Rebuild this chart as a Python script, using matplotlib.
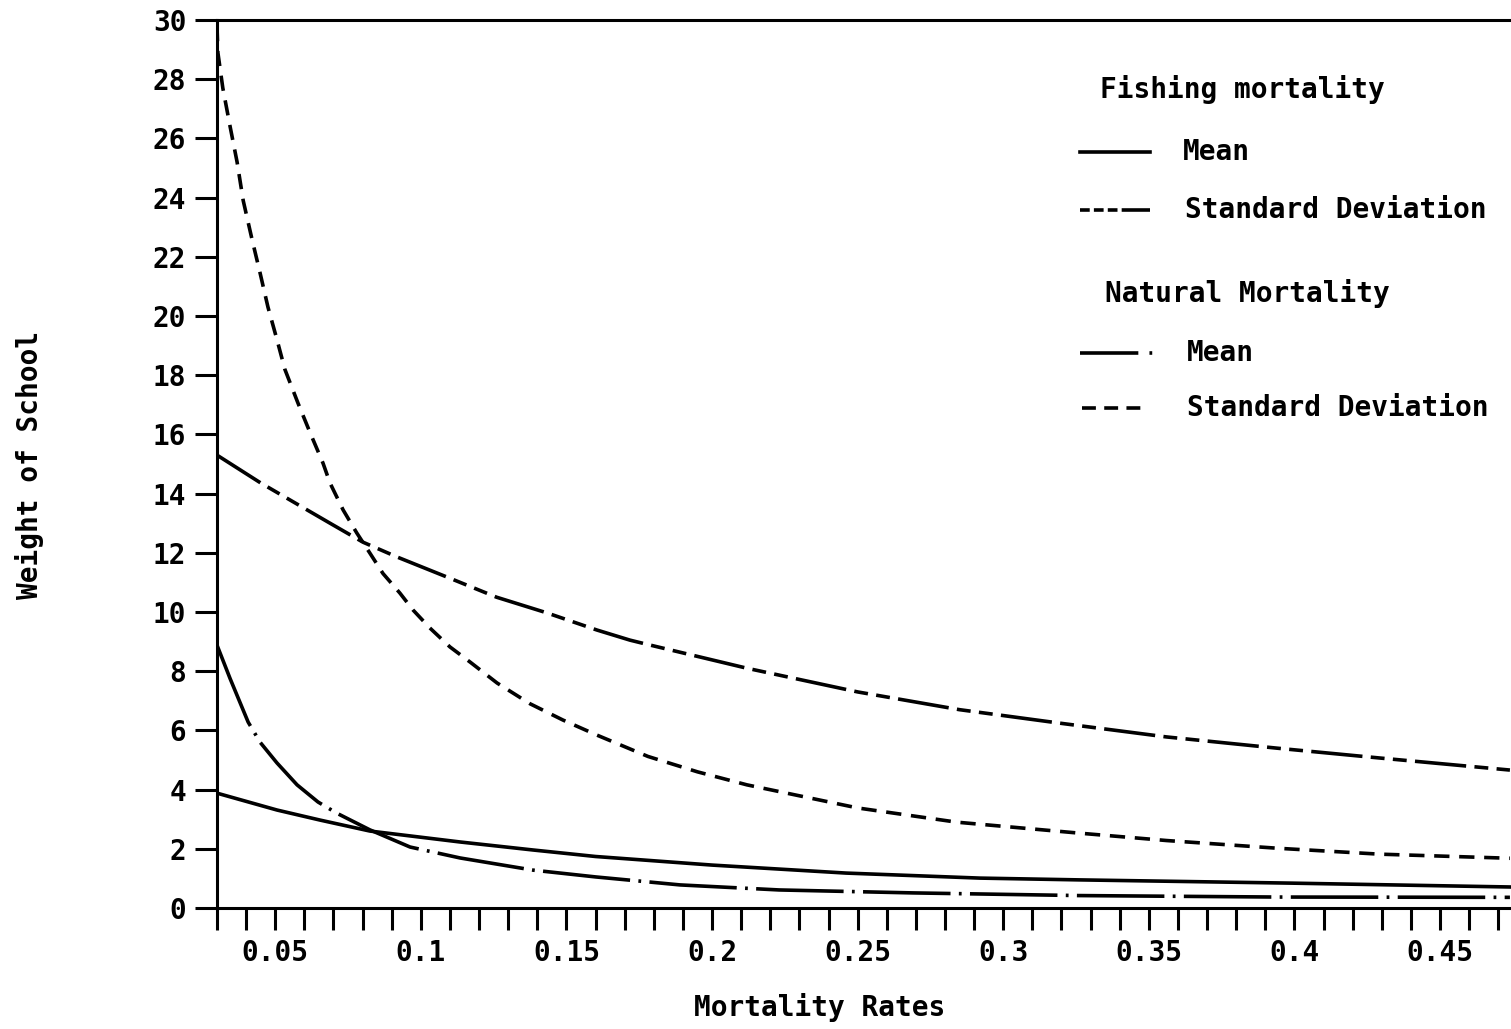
import numpy as np
import matplotlib
matplotlib.use("Agg")
import matplotlib.pyplot as plt
from matplotlib.lines import Line2D

plt.rcParams['font.family'] = ['DejaVu Sans Mono']
plt.rcParams['font.weight'] = 'bold'
plt.rcParams['lines.scale_dashes'] = False

# fishing mortality, standard deviation
fish_sd_x = [0.030, 0.045, 0.0688, 0.0801, 0.0918, 0.109, 0.126, 0.1433, 0.1605, 0.1718,
             0.178, 0.212, 0.250, 0.285, 0.319, 0.356, 0.394, 0.429, 0.474]
fish_sd_y = [15.3, 14.36, 13.0, 12.36, 11.86, 11.18, 10.5, 9.97, 9.39, 9.05,
             8.9, 8.1, 7.3, 6.7, 6.25, 5.78, 5.4, 5.07, 4.66]

# natural mortality, standard deviation
nat_sd_x = [0.030, 0.0303, 0.032, 0.0345, 0.0369, 0.039, 0.042, 0.0448, 0.0475, 0.0506, 0.0533,
            0.0578, 0.062, 0.0664, 0.0688, 0.0733, 0.078, 0.0825, 0.087, 0.0928, 0.0973, 0.1031,
            0.110, 0.1169, 0.1262, 0.1375, 0.1488, 0.1605, 0.178, 0.195, 0.212, 0.250, 0.284, 0.326,
            0.356, 0.394, 0.429, 0.474]
nat_sd_y = [29.8, 28.9, 27.7, 26.4, 25.2, 23.9, 22.6, 21.45, 20.3, 19.2, 18.2,
            17.06, 16.05, 15.03, 14.36, 13.45, 12.67, 11.99, 11.3, 10.64, 10.07, 9.46,
            8.82, 8.31, 7.6, 6.9, 6.35, 5.84, 5.12, 4.6, 4.16, 3.38, 2.9, 2.53,
            2.28, 2.02, 1.82, 1.68]

# fishing mortality, mean
fish_mean_x = [0.030, 0.0506, 0.0654, 0.0825, 0.1135, 0.1385, 0.160, 0.200, 0.246, 0.292, 0.326, 0.399, 0.474]
fish_mean_y = [3.88, 3.31, 2.97, 2.6, 2.23, 1.96, 1.74, 1.45, 1.18, 1.01, 0.95, 0.84, 0.71]

# natural mortality, mean
nat_mean_x = [0.030, 0.0345, 0.0407, 0.0448, 0.0506, 0.0575, 0.0647, 0.0712, 0.0825, 0.0963, 0.1135,
              0.1385, 0.160, 0.189, 0.223, 0.269, 0.326, 0.394, 0.474]
nat_mean_y = [8.88, 7.75, 6.28, 5.6, 4.9, 4.16, 3.58, 3.2, 2.64, 2.06, 1.69,
              1.28, 1.05, 0.78, 0.61, 0.51, 0.42, 0.37, 0.36]

x_labels = ['0.05', '0.1', '0.15', '0.2', '0.25', '0.3', '0.35', '0.4', '0.45']

W, H = 1511, 1029
fig = plt.figure(figsize=(W / 100, H / 100), dpi=100)
ax = fig.add_axes([217 / W, 1 - 908 / H, 1 - 217 / W, (908 - 20) / H])

lw = 2.6
ax.plot(fish_mean_x, fish_mean_y, color='black', lw=lw)
ax.plot(fish_sd_x, fish_sd_y, color='black', lw=lw, dashes=(37, 6, 10, 6, 10, 6))
ax.plot(nat_mean_x, nat_mean_y, color='black', lw=lw, dashes=(63, 6, 2, 6))
ax.plot(nat_sd_x, nat_sd_y, color='black', lw=lw, dashes=(11, 7))

ax.set_xlim(0.03, 0.03 + (W - 217) / 2912)
ax.set_ylim(0, 30)
ax.spines['right'].set_visible(False)
for s in ['left', 'top', 'bottom']:
    ax.spines[s].set_linewidth(2.2)

ax.set_yticks(np.arange(0, 31, 2))
ax.set_xticks(np.arange(0.05, 0.451, 0.05))
ax.set_xticklabels(x_labels)
ax.set_xticks(np.arange(0.03, 0.475, 0.01), minor=True)
ax.tick_params(axis='both', direction='out', length=16, width=2.2, labelsize=20, pad=6)
ax.tick_params(axis='x', which='minor', direction='out', length=16, width=2.2)

fig.text(30 / W, 1 - 465 / H, 'Weight of School', rotation=90, ha='center', va='center', fontsize=20)
fig.text(820 / W, 1 - 1008 / H, 'Mortality Rates', ha='center', va='center', fontsize=20)

# legend, drawn by hand in figure pixels
def fx(px):
    return px / W

def fy(py):
    return 1 - py / H

def key(x0, x1, y, **kw):
    fig.add_artist(Line2D([fx(x0), fx(x1)], [fy(y), fy(y)], color='black', lw=lw, **kw))

fig.text(fx(1100), fy(90), 'Fishing mortality', ha='left', va='center', fontsize=20)
key(1080, 1150, 152)
fig.text(fx(1183), fy(152), 'Mean', ha='left', va='center', fontsize=20)
key(1080, 1150, 210, dashes=(7, 3, 7, 3, 7, 3, 22, 100))
fig.text(fx(1185), fy(210), 'Standard Deviation', ha='left', va='center', fontsize=20)

fig.text(fx(1105), fy(294), 'Natural Mortality', ha='left', va='center', fontsize=20)
key(1080, 1158, 353, dashes=(42, 8, 2, 100))
fig.text(fx(1187), fy(353), 'Mean', ha='left', va='center', fontsize=20)
key(1082, 1147, 408, dashes=(10, 6))
fig.text(fx(1187), fy(408), 'Standard Deviation', ha='left', va='center', fontsize=20)

fig.savefig('out.png', dpi=100)
